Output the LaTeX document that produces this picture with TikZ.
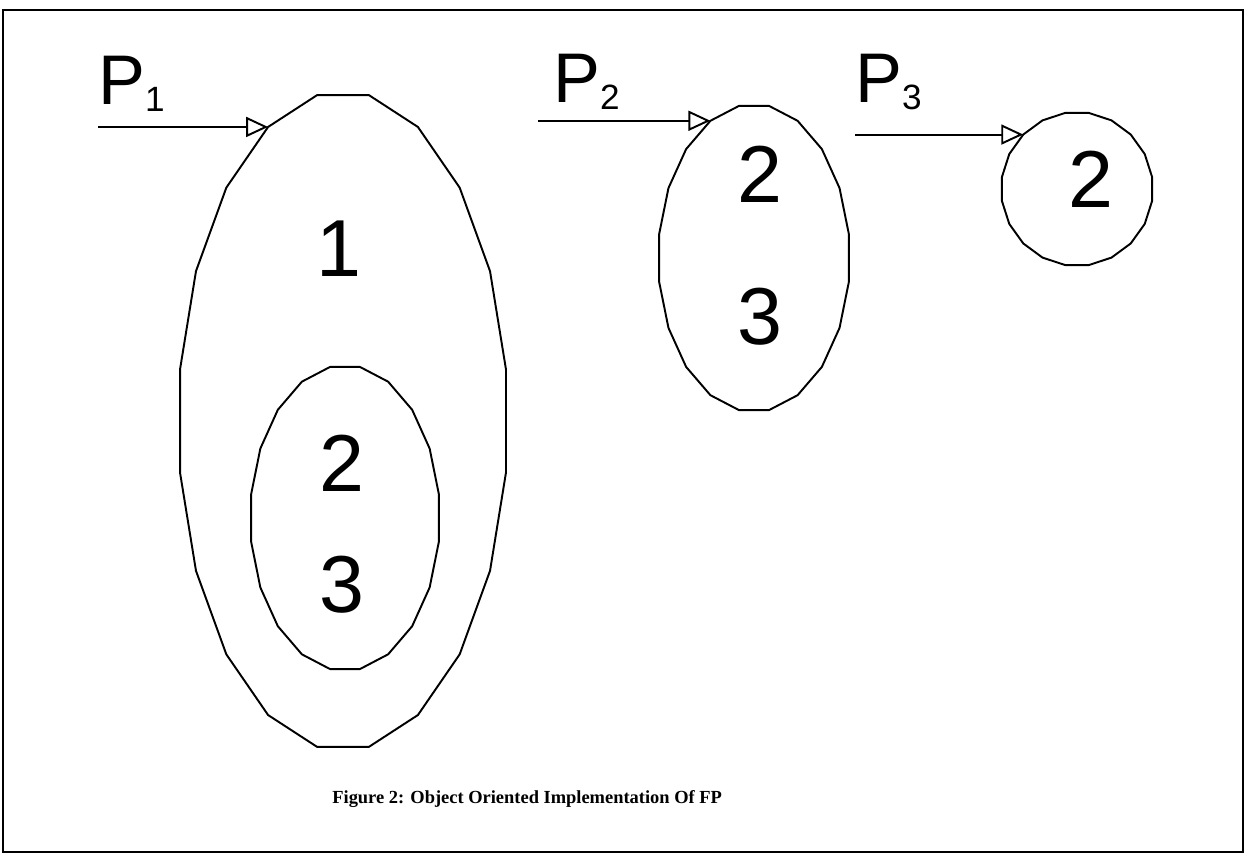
\documentclass[tikz,border=0pt]{standalone}
\usepackage{fontspec}
\setmainfont{Liberation Sans}
\newfontfamily\capfont{Liberation Serif}
\usetikzlibrary{arrows.meta}
\newcommand{\psub}[1]{\raisebox{-3.7pt}{\fontsize{20}{20}\selectfont #1}}
\begin{document}
\begin{tikzpicture}[x=0.02cm,y=-0.02cm,
        outline/.style={line width=1.1pt, line join=round},
        feed/.style={line width=1.1pt, -{Triangle[open,length=0.44cm,width=0.4cm]}},
        digit/.style={font=\fontsize{46}{46}\selectfont, inner sep=0pt, anchor=base},
        plabel/.style={font=\fontsize{40}{40}\selectfont, inner sep=0pt, anchor=base west}]
    \useasboundingbox (0,0) rectangle (1247,857);
    \draw [line width=1.6pt] (3,10) rectangle (1243,852);
    % corners of the four polygon ellipses
    \foreach \a [count=\k] in {9,27,...,351}
        {\coordinate (big\k) at ({343+165*cos(\a)},{421-330*sin(\a)});
        \coordinate (inner\k) at ({345+95*cos(\a)},{518-153*sin(\a)});
        \coordinate (mid\k) at ({754+96*cos(\a)},{258-154*sin(\a)});
        \coordinate (ring\k) at ({1077+76*cos(\a)},{189-77*sin(\a)});}
    \foreach \s in {big,inner,mid,ring}
        \draw [outline] (\s1) \foreach \k in {2,...,20}{-- (\s\k)} -- cycle;
    % contents
    \node [digit] (one) at (339,277) {1};
    \node [digit] (two) at (342,492) {2};
    \node [digit] (three) at (342,613) {3};
    \node [digit] (midtwo) at (760,203) {2};
    \node [digit] (midthree) at (760,345) {3};
    \node [digit] (ringtwo) at (1091,208) {2};
    % pointers
    \node [plabel] (p1) at (98,105) {P\psub{1}};
    \node [plabel] (p2) at (553,103) {P\psub{2}};
    \node [plabel] (p3) at (855,103) {P\psub{3}};
    \coordinate (p1tail) at (98,0);
    \coordinate (p2tail) at (538,0);
    \coordinate (p3tail) at (855,0);
    \draw [feed] (p1tail |- big7) -- (big7);
    \draw [feed] (p2tail |- mid7) -- (mid7);
    \draw [feed] (p3tail |- ring8) -- (ring8);
    \node [anchor=base west, inner sep=0pt, font=\capfont\bfseries\fontsize{10.5}{12}\selectfont] (caption) at (332,803)
        {\spaceskip=0.25em\relax Figure 2: Object Oriented Implementation Of FP};
\end{tikzpicture}
\end{document}
